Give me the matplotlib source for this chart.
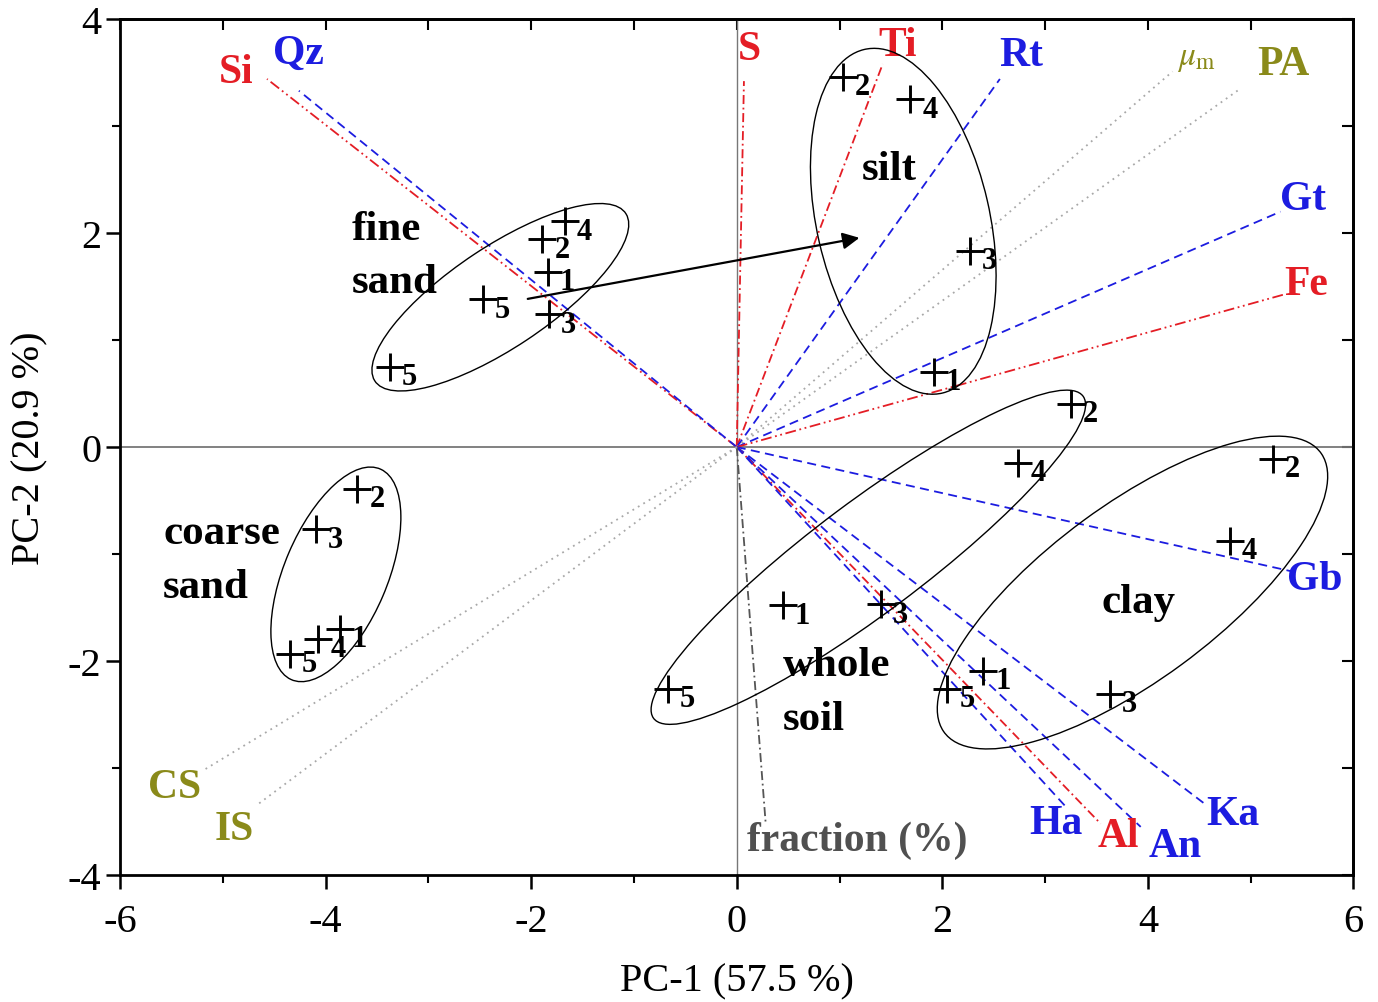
import matplotlib
matplotlib.use("Agg")
import matplotlib.pyplot as plt
from matplotlib.patches import Ellipse

plt.rcParams['font.family'] = ['Liberation Serif', 'DejaVu Serif']
plt.rcParams['mathtext.fontset'] = 'stix'
plt.rcParams['axes.unicode_minus'] = False

# sample scores (PC-1, PC-2) and sample numbers
fine_x = [-1.67, -1.89, -1.84, -2.47, -1.83, -3.37]
fine_y = [2.11, 1.94, 1.64, 1.38, 1.24, 0.75]
fine_n = ['4', '2', '1', '5', '3', '5']

silt_x = [1.03, 1.69, 2.27, 1.92]
silt_y = [3.46, 3.25, 1.83, 0.70]
silt_n = ['2', '4', '3', '1']

whole_x = [3.25, 2.74, 0.45, 1.40, -0.67]
whole_y = [0.40, -0.15, -1.48, -1.47, -2.26]
whole_n = ['2', '4', '1', '3', '5']

clay_x = [5.22, 4.80, 2.40, 2.05, 3.63]
clay_y = [-0.11, -0.88, -2.09, -2.26, -2.31]
clay_n = ['2', '4', '1', '5', '3']

coarse_x = [-3.69, -4.09, -3.86, -4.07, -4.35]
coarse_y = [-0.39, -0.77, -1.70, -1.79, -1.93]
coarse_n = ['2', '3', '1', '4', '5']

# loadings (vector end points)
var_names = ['Si', 'Qz', 'S', 'Ti', 'Rt', r'$\mu_\mathrm{m}$', 'PA', 'Gt', 'Fe',
             'Gb', 'Ka', 'An', 'Al', 'Ha', 'fraction (%)', 'CS', 'IS']
var_x = [-4.57, -4.26, 0.07, 1.42, 2.56, 4.24, 4.90, 5.29, 5.34,
         5.39, 4.56, 3.93, 3.54, 3.20, 0.28, -5.17, -4.66]
var_y = [3.44, 3.33, 3.42, 3.58, 3.44, 3.51, 3.35, 2.20, 1.43,
         -1.16, -3.34, -3.55, -3.52, -3.36, -3.50, -3.01, -3.34]

# group ellipses: centre x, centre y, full width, full height, angle
ell_cx = [-2.30, 1.62, 1.28, 3.85, -3.90]
ell_cy = [1.40, 2.11, -1.03, -1.36, -1.19]
ell_w = [2.90, 3.30, 5.15, 4.50, 2.15]
ell_h = [0.95, 1.68, 1.05, 1.65, 1.00]
ell_a = [32.5, 103.5, 35.7, 35.2, 66.0]

RED = '#e41d25'
BLUE = '#1c1ce0'
OLIVE = '#8a8a1a'
GRAY = '#a8a8a8'
DARK = '#555555'

dash_dot_dot = (0, (6, 2, 1, 2, 1, 2))
dash_dot = (0, (5, 2, 1, 2))
dashed = (0, (5, 3))
dotted = (0, (1, 2.5))

var_style = {
    'Si': (RED, dash_dot_dot, RED), 'Qz': (BLUE, dashed, BLUE),
    'S': (RED, dash_dot, RED), 'Ti': (RED, dash_dot, RED),
    'Rt': (BLUE, dashed, BLUE), r'$\mu_\mathrm{m}$': (GRAY, dotted, OLIVE),
    'PA': (GRAY, dotted, OLIVE), 'Gt': (BLUE, dashed, BLUE),
    'Fe': (RED, dash_dot_dot, RED), 'Gb': (BLUE, dashed, BLUE),
    'Ka': (BLUE, dashed, BLUE), 'An': (BLUE, dashed, BLUE),
    'Al': (RED, dash_dot, RED), 'Ha': (BLUE, dashed, BLUE),
    'fraction (%)': (DARK, dash_dot, '#505050'),
    'CS': (GRAY, dotted, OLIVE), 'IS': (GRAY, dotted, OLIVE),
}
# label offsets from the vector tip, in points
var_off = [(-22, 5), (0, 27), (4, 23), (11, 14), (15, 17), (17, 10), (31, 18),
           (16, 9), (15, 7), (17, -6), (20, -7), (25, -14), (13, -9),
           (-7, -12), (66, -13), (-22, -13), (-17, -18)]

fig = plt.figure(figsize=(13.78, 10.03), dpi=100)
ax = fig.add_axes([0.0871, 0.1266, 0.8951, 0.8534])
ax.set_xlim(-6, 6)
ax.set_ylim(-4, 4)

ax.axhline(0, color='#777777', lw=1.3, zorder=1)
ax.axvline(0, color='#777777', lw=1.0, zorder=1)

for name, vx, vy, off in zip(var_names, var_x, var_y, var_off):
    lc, ls, tc = var_style[name]
    ax.plot([0, vx], [0, vy], color=lc, ls=ls, lw=1.3, zorder=2)
    fs = 24 if name.startswith('$') else 30
    ax.annotate(name, (vx, vy), xytext=off, textcoords='offset points',
                ha='center', va='center', color=tc, fontsize=fs,
                fontweight='bold')

for cx, cy, w, h, a in zip(ell_cx, ell_cy, ell_w, ell_h, ell_a):
    ax.add_patch(Ellipse((cx, cy), w, h, angle=a, fill=False,
                         ec='black', lw=1.0, zorder=3))

groups = [(fine_x, fine_y, fine_n), (silt_x, silt_y, silt_n),
          (whole_x, whole_y, whole_n), (clay_x, clay_y, clay_n),
          (coarse_x, coarse_y, coarse_n)]
for gx, gy, gn in groups:
    ax.plot(gx, gy, ls='none', marker='+', ms=20, mew=2.1, color='black',
            zorder=4)
    for x, y, n in zip(gx, gy, gn):
        ax.annotate(n, (x, y), xytext=(14, -7), textcoords='offset points',
                    ha='center', va='center', fontsize=22, fontweight='bold')

ax.annotate('', xy=(1.22, 1.96), xytext=(-2.06, 1.38),
            arrowprops=dict(arrowstyle='-|>', color='black', lw=1.6,
                            mutation_scale=25), zorder=5)

group_text = [('fine\nsand', -3.75, 1.79), ('silt', 1.22, 2.60),
              ('whole\nsoil', 0.45, -2.29), ('clay', 3.55, -1.45),
              ('coarse\nsand', -5.58, -1.06)]
for t, x, y in group_text:
    ax.text(x, y, t, fontsize=31, fontweight='bold', ha='left',
            va='center', linespacing=1.55, zorder=6)

ax.set_xticks(range(-6, 7, 2))
ax.set_yticks(range(-4, 5, 2))
ax.set_xticks(range(-5, 6, 2), minor=True)
ax.set_yticks(range(-3, 4, 2), minor=True)
ax.tick_params(axis='both', which='major', direction='out', length=10,
               width=1.8, labelsize=29, top=False, right=False)
ax.tick_params(axis='x', which='major', pad=10)
ax.tick_params(axis='both', which='minor', direction='out', length=6,
               width=1.5)
sec_x = ax.secondary_xaxis('top')
sec_x.set_xticks(range(-6, 7, 1))
sec_x.tick_params(direction='in', length=8, width=1.5, labeltop=False)
sec_y = ax.secondary_yaxis('right')
sec_y.set_yticks(range(-4, 5, 1))
sec_y.tick_params(direction='in', length=8, width=1.5, labelright=False)
for s in list(ax.spines.values()) + [sec_x.spines['top'], sec_y.spines['right']]:
    s.set_linewidth(2.0)

ax.set_xlabel('PC-1 (57.5 %)', fontsize=29, labelpad=16)
ax.set_ylabel('PC-2 (20.9 %)', fontsize=29, labelpad=14)

fig.savefig('out.png', dpi=100)
